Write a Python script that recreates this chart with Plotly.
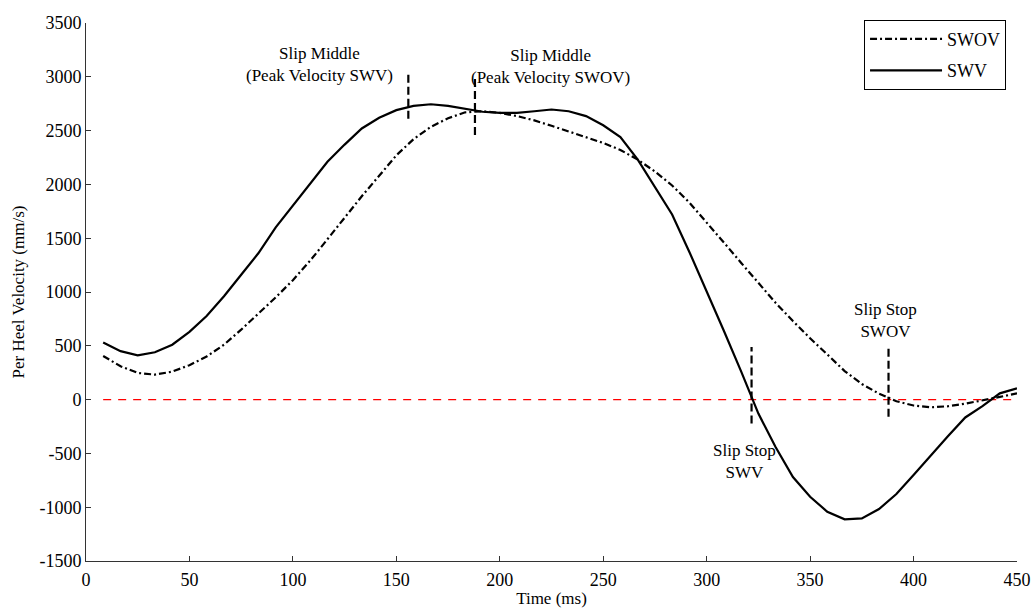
import plotly.graph_objects as go

# Time samples (ms)
times = [8.3, 16.7, 25.0, 33.3, 41.7, 50.0, 58.3, 66.7, 75.0, 83.3,
         91.7, 100.0, 108.3, 116.7, 125.0, 133.3, 141.7, 150.0, 158.3, 166.7,
         175.0, 183.3, 191.7, 200.0, 208.3, 216.7, 225.0, 233.3, 241.7, 250.0,
         258.3, 266.7, 275.0, 283.3, 291.7, 300.0, 308.3, 316.7, 325.0, 333.3,
         341.7, 350.0, 358.3, 366.7, 375.0, 383.3, 391.7, 400.0, 408.3, 416.7,
         425.0, 433.3, 441.7, 450.0]

# Per heel velocity (mm/s)
swov = [405, 310, 248, 232, 260, 320, 400, 510, 650, 800,
        950, 1110, 1290, 1490, 1690, 1890, 2080, 2270, 2420, 2535,
        2615, 2670, 2680, 2665, 2635, 2595, 2545, 2490, 2440, 2385,
        2320, 2230, 2120, 1990, 1830, 1650, 1460, 1270, 1080, 900,
        730, 570, 420, 265, 145, 55, -15, -55, -72, -62,
        -38, -10, 25, 58]

swv = [530, 450, 412, 440, 510, 630, 776, 960, 1160, 1360,
       1600, 1800, 2010, 2210, 2370, 2520, 2620, 2690, 2730, 2745,
       2730, 2700, 2675, 2665, 2665, 2680, 2696, 2680, 2635, 2550,
       2440, 2230, 1980, 1720, 1370, 1010, 640, 260, -130, -440,
       -720, -903, -1042, -1113, -1104, -1017, -878, -701, -516, -339,
       -166, -60, 58, 104]

# Event markers
event_t = [155.8, 188.0, 321.7, 387.9]
event_lo = [2610, 2460, -221, -160]
event_hi = [3050, 3000, 490, 490]

# Annotation labels
label_text = ["Slip Middle<br>(Peak Velocity SWV)",
              "Slip Middle<br>(Peak Velocity SWOV)",
              "Slip Stop<br>SWV",
              "Slip Stop<br>SWOV"]
label_x = [113.0, 224.3, 318.5, 386.2]
label_y = [3115, 3100, -578, 739]

x_ticks = [0, 50, 100, 150, 200, 250, 300, 350, 400, 450]
y_ticks = [-1500, -1000, -500, 0, 500, 1000, 1500, 2000, 2500, 3000, 3500]
y_tick_labels = ["-1500", "-1000", "-500", "0", "500", "1000", "1500",
                 "2000", "2500", "3000", "3500"]

FONT = "Liberation Serif, Times New Roman, serif"

fig = go.Figure()

# zero reference line
fig.add_trace(go.Scatter(x=[times[0], times[-1]], y=[0, 0], mode="lines",
                         line=dict(color="#ff0000", width=1.3, dash="8px,7px"),
                         showlegend=False, hoverinfo="skip"))

fig.add_trace(go.Scatter(x=times, y=swov, mode="lines", name="SWOV",
                         legendgroup="a",
                         line=dict(color="black", width=2.2, dash="7px,3px,2px,3px")))
fig.add_trace(go.Scatter(x=times, y=swv, mode="lines", name="SWV",
                         legendgroup="b",
                         line=dict(color="black", width=2.2)))

for t, lo, hi in zip(event_t, event_lo, event_hi):
    fig.add_trace(go.Scatter(x=[t, t], y=[lo, hi], mode="lines",
                             line=dict(color="black", width=2.2, dash="8px,4px"),
                             showlegend=False, hoverinfo="skip"))

for txt, x, y in zip(label_text, label_x, label_y):
    fig.add_annotation(x=x, y=y, text=txt, showarrow=False,
                       xanchor="center", yanchor="middle",
                       font=dict(family=FONT, size=17, color="black"))

axis_common = dict(showline=True, linecolor="#333333", linewidth=1,
                   ticks="inside", ticklen=5, tickcolor="#333333",
                   showgrid=False, zeroline=False, mirror=False,
                   automargin=False,
                   tickfont=dict(family=FONT, size=18, color="black"))

fig.update_xaxes(range=[0, 450], tickvals=x_ticks, title_text="Time (ms)",
                 title_font=dict(family=FONT, size=17, color="black"),
                 title_standoff=3, ticklabelstandoff=2, **axis_common)
fig.update_yaxes(range=[-1500, 3500], tickvals=y_ticks, ticktext=y_tick_labels,
                 title_text="Per Heel Velocity (mm/s)",
                 title_font=dict(family=FONT, size=17, color="black"),
                 title_standoff=10, **axis_common)

fig.update_layout(
    width=1032, height=609,
    margin=dict(l=86, r=15, t=23, b=48),
    paper_bgcolor="white", plot_bgcolor="white",
    font=dict(family=FONT, size=17, color="black"),
    legend=dict(x=0.8357, y=1.006, xanchor="left", yanchor="top",
                bordercolor="black", borderwidth=1, bgcolor="white",
                traceorder="grouped", tracegroupgap=5,
                itemwidth=72,
                font=dict(family=FONT, size=18, color="black")),
    hovermode=False,
)

fig.write_html("out.html",
               config={"displayModeBar": False},
               post_script="document.body.style.margin='0px';document.body.style.overflow='hidden';")
